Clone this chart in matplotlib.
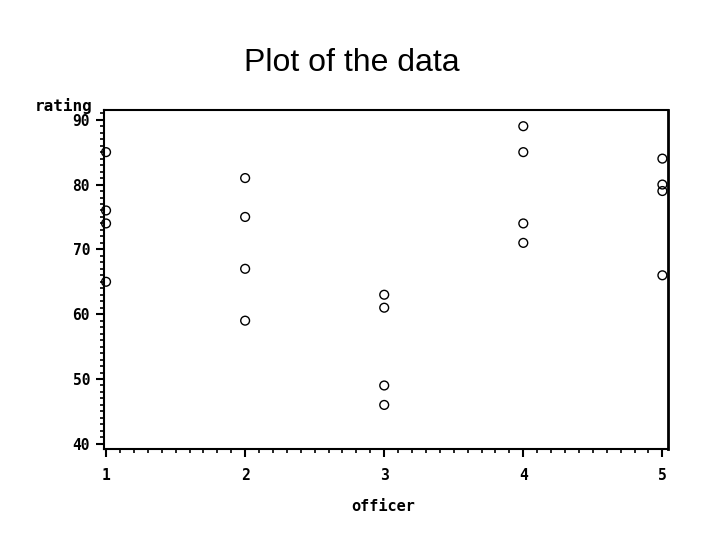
import numpy as np
import matplotlib
matplotlib.use("Agg")
import matplotlib.pyplot as plt
from matplotlib.ticker import MultipleLocator

# data
officer = [1, 1, 1, 1, 2, 2, 2, 2, 3, 3, 3, 3, 4, 4, 4, 4, 5, 5, 5, 5]
rating = [85, 76, 74, 65, 81, 75, 67, 59, 63, 61, 49, 46,
          89, 85, 74, 71, 84, 80, 79, 66]
xticks = [1, 2, 3, 4, 5]
yticks = [40, 50, 60, 70, 80, 90]


def main():
    fig = plt.figure(figsize=(7.2, 5.4), dpi=100)
    ax = fig.add_axes([0.1444, 0.1685, 0.7833, 0.6278])

    ax.scatter(officer, rating, s=40, facecolors="none", edgecolors="black",
               linewidths=1.0, clip_on=False, zorder=3)

    ax.set_xlim(0.985, 5.04)
    ax.set_ylim(39.2, 91.5)
    ax.set_xticks(xticks)
    ax.set_yticks(yticks)
    ax.xaxis.set_minor_locator(MultipleLocator(0.1))
    ax.yaxis.set_minor_locator(MultipleLocator(1))
    ax.tick_params(which="major", length=6, width=1.5, direction="out",
                   labelsize=10.5)
    ax.tick_params(axis="y", which="major", pad=4)
    ax.tick_params(axis="x", which="major", pad=8)
    ax.tick_params(which="minor", length=3, width=1.2, direction="out")
    for lab in ax.get_xticklabels() + ax.get_yticklabels():
        lab.set_family("DejaVu Sans Mono")
        lab.set_fontweight("bold")
    for sp in ax.spines.values():
        sp.set_linewidth(1.5)
    ax.spines["right"].set_linewidth(2)

    fig.text(0.489, 0.884, "Plot of the data", ha="center", va="center",
             fontsize=23, family="Liberation Sans", fontweight="light")
    fig.text(0.128, 0.803, "rating", ha="right", va="center", fontsize=11.5,
             family="DejaVu Sans Mono", fontweight="bold")
    fig.text(0.532, 0.062, "officer", ha="center", va="center", fontsize=11,
             family="DejaVu Sans Mono", fontweight="bold")

    fig.savefig("out.png", dpi=100)


if __name__ == "__main__":
    main()
